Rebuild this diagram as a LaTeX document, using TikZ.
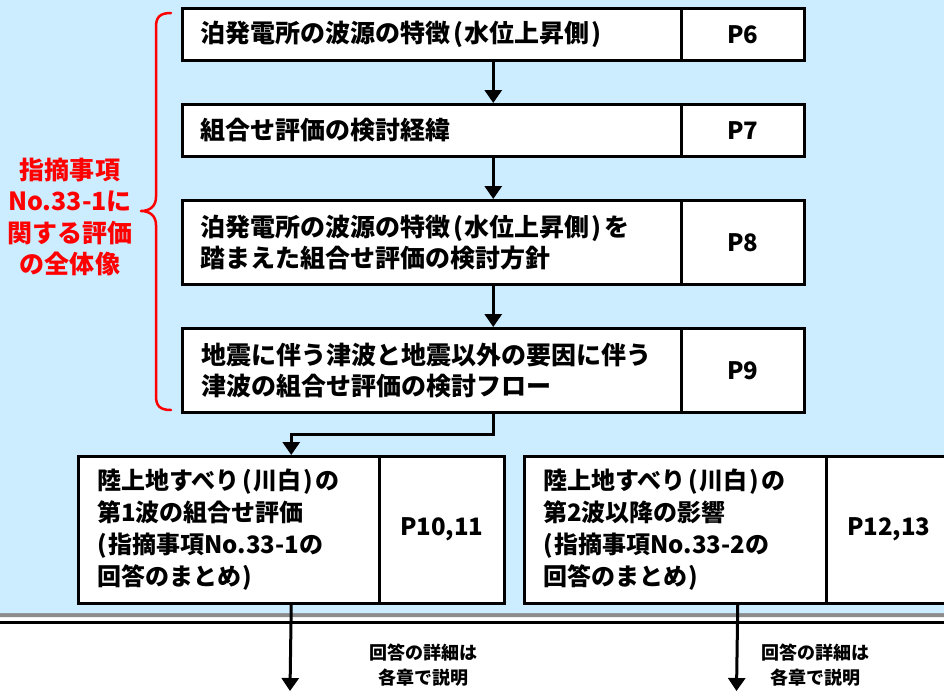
\documentclass[tikz,border=0pt]{standalone}
\usepackage{fontspec}
\setmainfont{Noto Sans CJK JP}
\usetikzlibrary{arrows.meta}
\definecolor{panelblue}{RGB}{204,236,255}
\definecolor{alertred}{RGB}{255,0,0}
\newcommand\lpar{\kern3pt(\kern1.5pt}
\newcommand\rpar{\kern1.5pt)\kern3pt}
\newcommand\lparb{(\kern1.5pt}
\begin{document}
\begin{tikzpicture}[x=1pt,y=-1pt,
  cell/.style={draw=black, line width=2.5pt, fill=white, inner sep=0pt, anchor=north west},
  pcell/.style={cell, anchor=north east, font=\fontsize{24}{28}\selectfont\bfseries},
  txt/.style={anchor=west, align=left, inner sep=0pt, font=\fontsize{25}{31}\selectfont\bfseries},
  txtb/.style={txt, font=\fontsize{24}{32}\selectfont\bfseries},
  note/.style={align=center, inner sep=0pt, font=\fontsize{18}{25}\selectfont\bfseries},
  redlabel/.style={align=center, inner sep=0pt, text=alertred, font=\fontsize{25}{31.5}\selectfont\bfseries},
  arr/.style={line width=3pt, -{Triangle[length=13pt,width=17pt]}},
  bracepath/.style={draw=alertred, line width=2.5pt, line cap=round, line join=round}
]
\useasboundingbox (0,0) rectangle (944,691);
\clip (0,0) rectangle (944,691);
\fill[white] (0,0) rectangle (944,691);
% panel
\fill[black!45, rounded corners=8pt] (-10,-10) rectangle (954,617);
\fill[panelblue, rounded corners=8pt] (-10,-10) rectangle (954,613);
\draw[line width=2.5pt] (0,622.5) -- (944,622.5);

% boxes
\node[cell, minimum width=622pt, minimum height=52pt] (b1) at (181,7) {};
\node[pcell, minimum width=123pt, minimum height=52pt] (p1) at (b1.north east) {P6};
\node[txt] (t1) at ([xshift=19pt]b1.west) {泊発電所の波源の特徴\lpar 水位上昇側\rpar};

\node[cell, minimum width=622pt, minimum height=52pt] (b2) at (181,103) {};
\node[pcell, minimum width=123pt, minimum height=52pt] (p2) at (b2.north east) {P7};
\node[txt] (t2) at ([xshift=19pt]b2.west) {組合せ評価の検討経緯};

\node[cell, minimum width=622pt, minimum height=84pt] (b3) at (181,199) {};
\node[pcell, minimum width=123pt, minimum height=84pt] (p3) at (b3.north east) {P8};
\node[txt] (t3) at ([xshift=19pt]b3.west) {泊発電所の波源の特徴\lpar 水位上昇側\rpar を\\踏まえた組合せ評価の検討方針};

\node[cell, minimum width=622pt, minimum height=84pt] (b4) at (181,327) {};
\node[pcell, minimum width=123pt, minimum height=84pt] (p4) at (b4.north east) {P9};
\node[txt] (t4) at ([xshift=20pt]b4.west) {地震に伴う津波と地震以外の要因に伴う\\津波の組合せ評価の検討フロー};

\node[cell, minimum width=426pt, minimum height=147pt] (b5) at (77,455) {};
\node[pcell, minimum width=125pt, minimum height=147pt] (p5) at (b5.north east) {P10,11};
\node[txtb] (t5) at ([xshift=20pt]b5.west) {陸上地すべり\lpar 川白\rpar の\\第1波の組合せ評価\\\lparb 指摘事項No.33-1の\\回答のまとめ\rpar};

\node[cell, minimum width=427pt, minimum height=147pt] (b6) at (523,455) {};
\node[pcell, minimum width=125pt, minimum height=147pt] (p6) at (b6.north east) {P12,13};
\node[txtb] (t6) at ([xshift=20pt]b6.west) {陸上地すべり\lpar 川白\rpar の\\第2波以降の影響\\\lparb 指摘事項No.33-2の\\回答のまとめ\rpar};

% connectors
\draw[arr] (b1.south) -- (b2.north);
\draw[arr] (b2.south) -- (b3.north);
\draw[arr] (b3.south) -- (b4.north);
\draw[arr, line join=miter] (b4.south) -- ++(0,21) -| (b5.north);
\coordinate (e5) at (290,691);
\coordinate (e6) at (736.5,691);
\draw[arr] (b5.south) -- (e5);
\draw[arr] (b6.south) -- (e6);

\node[note] (n5) at (423,665) {回答の詳細は\\各章で説明};
\node[note] (n6) at (815,665) {回答の詳細は\\各章で説明};

% red brace and label
\draw[bracepath] (171,13) .. controls (160,13) and (156,17) .. (156,27) -- (156,197)
  .. controls (156,206) and (150,211) .. (141,211)
  .. controls (150,211) and (156,216) .. (156,225) -- (156,396)
  .. controls (156,406) and (160,410) .. (171,410);
\node[redlabel] (lbl) at (70,217) {指摘事項\\No.33-1に\\関する評価\\の全体像};
\end{tikzpicture}
\end{document}
